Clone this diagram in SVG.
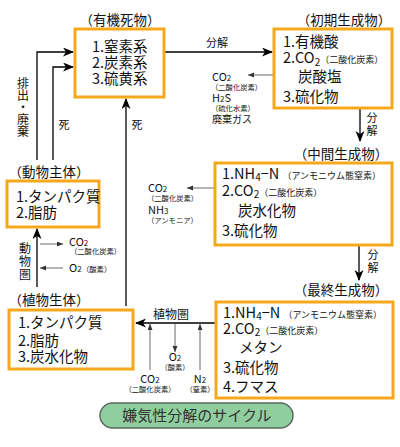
<svg xmlns="http://www.w3.org/2000/svg" width="400" height="447" viewBox="0 0 400 447">
<defs>
<marker id="big" markerUnits="userSpaceOnUse" markerWidth="12" markerHeight="10" refX="10" refY="4.5" orient="auto"><path d="M0,0 L11,4.5 L0,9 L3,4.5 z" fill="#000"/></marker>
<marker id="sm" markerUnits="userSpaceOnUse" markerWidth="7" markerHeight="6" refX="6" refY="2.5" orient="auto"><path d="M0,0 L6,2.5 L0,5 z" fill="#333"/></marker>
</defs>
<style>
text{font-family:"Noto Sans CJK JP","Noto Sans",sans-serif;fill:#111}
.box{fill:#fff;stroke:#f6a81c;stroke-width:3}
.t{font-size:13.5px;text-anchor:middle}
.m{font-size:14.5px}
.s{font-size:9px}
.g{font-size:11px}
.gs{font-size:7.3px}
.l{font-size:11px;text-anchor:middle}
.v{writing-mode:vertical-rl;font-size:12px}
.main{fill:none;stroke:#000;stroke-width:1.3;marker-end:url(#big)}
.gas{fill:none;stroke:#444;stroke-width:0.8;marker-end:url(#sm)}
</style>
<rect width="400" height="447" fill="#fff"/>

<g id="connectors">
<path class="main" d="M37,160 V52 H73"/>
<path class="main" d="M53,160 V67 H73"/>
<path class="main" d="M126,306 V99"/>
<path class="main" d="M164,52 H272"/>
<path class="gas" d="M274,75 H248"/>
<path class="main" d="M360,108 V141"/>
<path class="gas" d="M215,188 H187"/>
<path class="main" d="M359,245 V280"/>
<path class="main" d="M216,323 H136"/>
<path class="gas" d="M150,370 V324"/>
<path class="gas" d="M200,370 V324"/>
<path class="gas" d="M175,323 V352"/>
<path class="main" d="M37,287 V229"/>
<path class="gas" d="M40,244 H63"/>
<path class="gas" d="M63,268 H40"/>
</g>

<g id="edge-labels">
<text class="v" x="23" y="77">排出・廃棄</text>
<text class="l" x="64" y="129" font-size="12">死</text>
<text class="l" x="137" y="129" font-size="12">死</text>
<text class="l" x="217" y="47" font-size="12">分解</text>
<text class="v" x="372" y="112" style="font-size:11px;letter-spacing:2px">分解</text>
<text class="v" x="373" y="249" style="font-size:11px;letter-spacing:2px">分解</text>
<text x="153" y="319" font-size="12">植物圏</text>
<text class="v" x="25" y="242" style="font-size:12px;letter-spacing:1px">動物圏</text>
</g>

<g id="gas-labels">
<text class="g" x="212" y="81">CO<tspan font-size="8">2</tspan></text>
<text class="gs" x="211" y="90">（二酸化炭素）</text>
<text class="g" x="212" y="102">H<tspan font-size="8">2</tspan>S</text>
<text class="gs" x="211" y="111">（硫化水素）</text>
<text x="212" y="123" font-size="10">廃棄ガス</text>

<text class="g" x="148" y="192">CO<tspan font-size="8">2</tspan></text>
<text class="gs" x="147" y="201">（二酸化炭素）</text>
<text class="g" x="148" y="214">NH<tspan font-size="8">3</tspan></text>
<text class="gs" x="147" y="223">（アンモニア）</text>

<text class="g" x="69" y="246">CO<tspan font-size="8">2</tspan></text>
<text class="gs" x="70" y="254">（二酸化炭素）</text>
<text class="g" x="69" y="272">O<tspan font-size="8">2</tspan></text>
<text class="gs" x="82" y="272">（酸素）</text>

<text class="l" x="175" y="361">O<tspan font-size="8">2</tspan></text>
<text class="gs" x="175" y="370" text-anchor="middle">（酸素）</text>
<text class="l" x="150" y="383">CO<tspan font-size="8">2</tspan></text>
<text class="gs" x="150" y="392" text-anchor="middle">（二酸化炭素）</text>
<text class="l" x="200" y="383">N<tspan font-size="8">2</tspan></text>
<text class="gs" x="200" y="392" text-anchor="middle">（窒素）</text>
</g>

<g id="node-yuki">
<text class="t" x="120" y="25">（有機死物）</text>
<rect class="box" x="75" y="29" width="89" height="68"/>
<text class="m" x="92" y="52">1.窒素系</text>
<text class="m" x="92" y="68">2.炭素系</text>
<text class="m" x="92" y="84">3.硫黄系</text>
</g>

<g id="node-shoki">
<text class="t" x="344" y="25">（初期生成物）</text>
<rect class="box" x="274" y="29" width="118" height="79"/>
<text class="m" x="283" y="47">1.有機酸</text>
<text class="m" x="283" y="63">2.CO<tspan font-size="10" dy="3">2</tspan><tspan class="s" dy="-3">（二酸化炭素）</tspan></text>
<text class="m" x="298" y="82">炭酸塩</text>
<text class="m" x="283" y="102">3.硫化物</text>
</g>

<g id="node-chukan">
<text class="t" x="341" y="159">（中間生成物）</text>
<rect class="box" x="215" y="163" width="177" height="82"/>
<text class="m" x="222" y="179">1.NH<tspan font-size="10" dy="2">4</tspan><tspan dy="-2">−N </tspan><tspan class="s">（アンモニウム態窒素）</tspan></text>
<text class="m" x="222" y="196">2.CO<tspan font-size="10" dy="2">2</tspan><tspan class="s" dy="-2">（二酸化炭素）</tspan></text>
<text class="m" x="238" y="216">炭水化物</text>
<text class="m" x="222" y="236">3.硫化物</text>
</g>

<g id="node-saishu">
<text class="t" x="341" y="295">（最終生成物）</text>
<rect class="box" x="216" y="302" width="177" height="96"/>
<text class="m" x="223" y="318">1.NH<tspan font-size="10" dy="2">4</tspan><tspan dy="-2">−N </tspan><tspan class="s">（アンモニウム態窒素）</tspan></text>
<text class="m" x="223" y="334">2.CO<tspan font-size="10" dy="2">2</tspan><tspan class="s" dy="-2">（二酸化炭素）</tspan></text>
<text class="m" x="239" y="353">メタン</text>
<text class="m" x="223" y="373">3.硫化物</text>
<text class="m" x="223" y="392">4.フマス</text>
</g>

<g id="node-shokubutsu">
<text class="t" x="49" y="305">（植物生体）</text>
<rect class="box" x="9" y="310" width="124" height="59"/>
<text class="m" x="18" y="328">1.タンパク質</text>
<text class="m" x="18" y="346">2.脂肪</text>
<text class="m" x="18" y="362">3.炭水化物</text>
</g>

<g id="node-dobutsu">
<text class="t" x="49" y="177">（動物主体）</text>
<rect class="box" x="7" y="181" width="92" height="46"/>
<text class="m" x="16" y="202">1.タンパク質</text>
<text class="m" x="16" y="218">2.脂肪</text>
</g>

<g id="title">
<rect x="100" y="403" width="193" height="25" rx="12.5" fill="#8fcf9f" stroke="#5a6a5e" stroke-width="1.5"/>
<text x="197" y="421" font-size="15" text-anchor="middle" style="fill:#333">嫌気性分解のサイクル</text>
</g>
</svg>
